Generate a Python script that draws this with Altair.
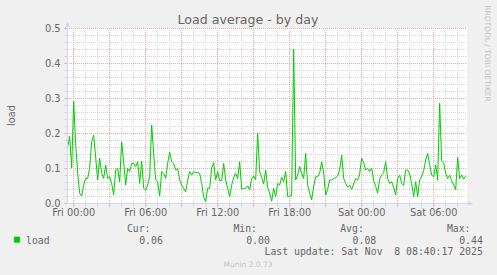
import altair as alt
import pandas as pd

# ---------------- data ----------------
title_text = "Load average - by day"
y_title = "load"
side_text = "RRDTOOL / TOBI OETIKER"
footer_text = "Munin 2.0.73"
series_name = "load"
stat_names = ["Cur:", "Min:", "Avg:", "Max:"]
stat_values = ["0.06", "0.00", "0.08", "0.44"]
last_update = "Last update: Sat Nov  8 08:40:17 2025"
first_sample_min = -30        # Thu 23:30, minutes relative to Fri 00:00
sample_step_min = 10
x_domain = [-33.33, 1966.67]  # minutes relative to Fri 00:00
x_label_pos = [0, 360, 720, 1080, 1440, 1800]
x_label_text = ["Fri 00:00", "Fri 06:00", "Fri 12:00", "Fri 18:00", "Sat 00:00", "Sat 06:00"]
y_label_pos = [0.0, 0.1, 0.2, 0.3, 0.4, 0.5]
y_label_text = ["0.0", "0.1", "0.2", "0.3", "0.4", "0.5"]
minor_x = list(range(0, 1921, 60))
major_x = list(range(0, 1921, 180))
minor_y = [0.02, 0.04, 0.06, 0.08, 0.12, 0.14, 0.16, 0.18, 0.22, 0.24, 0.26, 0.28,
           0.32, 0.34, 0.36, 0.38, 0.42, 0.44, 0.46, 0.48]
major_y = [0.0, 0.1, 0.2, 0.3, 0.4, 0.5]

load_values = [
    0.16, 0.19, 0.10, 0.29, 0.17, 0.085, 0.028, 0.02, 0.051, 0.07,
    0.07, 0.10, 0.175, 0.194, 0.13, 0.066, 0.128, 0.085, 0.07, 0.109,
    0.07, 0.075, 0.056, 0.023, 0.094, 0.10, 0.06, 0.175, 0.118, 0.051,
    0.099, 0.09, 0.113, 0.113, 0.104, 0.118, 0.056, 0.12, 0.042, 0.037,
    0.051, 0.075, 0.223, 0.142, 0.066, 0.061, 0.02, 0.09, 0.085, 0.07,
    0.113, 0.145, 0.118, 0.113, 0.094, 0.099, 0.066, 0.051, 0.042, 0.032,
    0.065, 0.09, 0.08, 0.09, 0.087, 0.087, 0.085, 0.056, 0.018, 0.004,
    0.042, 0.042, 0.10, 0.115, 0.066, 0.09, 0.064, 0.064, 0.113, 0.066,
    0.042, 0.018, 0.051, 0.073, 0.085, 0.07, 0.118, 0.04, 0.042, 0.042,
    0.049, 0.037,
    0.07, 0.077, 0.066, 0.20, 0.09, 0.073, 0.054, 0.094, 0.045, 0.028,
    0.005, 0.042, 0.018, 0.056, 0.051, 0.073, 0.061, 0.09, 0.018, 0.02,
    0.02, 0.44, 0.066, 0.08, 0.104, 0.085, 0.07, 0.142, 0.051, 0.028,
    0.009, 0.047, 0.075, 0.075, 0.085, 0.118, 0.085, 0.023, 0.039, 0.066,
    0.066, 0.07, 0.072, 0.077, 0.094, 0.137, 0.07, 0.056, 0.045, 0.051,
    0.039, 0.054, 0.07, 0.064, 0.083, 0.128, 0.115, 0.094, 0.099, 0.09,
    0.10, 0.064, 0.047, 0.028, 0.068, 0.08, 0.087, 0.118, 0.07, 0.056,
    0.061, 0.045, 0.023, 0.07, 0.08, 0.056, 0.05, 0.094, 0.094, 0.083,
    0.056, 0.018, 0.061, 0.018, 0.066, 0.077, 0.092, 0.123, 0.142, 0.109,
    0.08, 0.075, 0.109, 0.066, 0.285, 0.12, 0.115, 0.085, 0.07, 0.08,
    0.064, 0.051, 0.037, 0.13, 0.07, 0.08, 0.068, 0.077,
]

minutes = [first_sample_min + sample_step_min * i for i in range(len(load_values))]
df = pd.DataFrame({"t": minutes, "load": load_values})

# ---------------- styles ----------------
FONT = "DejaVu Sans"
MONO = "DejaVu Sans Mono"
TXT = "#666666"
AXIS = "#CFD6F8"
MAJ = "#E6A6A6"
MIN = "#D4D4D4"
GREEN = "#00CC00"
WM = "#C4C4C4"
FS = 9.8

xs = alt.Scale(domain=x_domain, nice=False, zero=False)
ys = alt.Scale(domain=[0, 0.5], nice=False, zero=True)


def vgrid(vals, color):
    d = pd.DataFrame({"v": vals})
    g = alt.Chart(d).mark_rule(color=color, strokeWidth=1, strokeDash=[1, 1]).encode(
        x=alt.X("v:Q", scale=xs, axis=None), y=alt.value(0), y2=alt.value(175))
    t = alt.Chart(d).mark_rule(color=color, strokeWidth=1).encode(
        x=alt.X("v:Q", scale=xs, axis=None), y=alt.value(176), y2=alt.value(178.5))
    return [g, t]


def hgrid(vals, color):
    d = pd.DataFrame({"v": vals})
    g = alt.Chart(d).mark_rule(color=color, strokeWidth=1, strokeDash=[1, 1], yOffset=0.5).encode(
        y=alt.Y("v:Q", scale=ys, axis=None), x=alt.value(0), x2=alt.value(400))
    t = alt.Chart(d).mark_rule(color=color, strokeWidth=1, yOffset=0.5).encode(
        y=alt.Y("v:Q", scale=ys, axis=None), x=alt.value(-2.5), x2=alt.value(0))
    return [g, t]


dummy = pd.DataFrame({"k": [0]})


def txt(s, x, y, **kw):
    return alt.Chart(dummy).mark_text(text=s, **kw).encode(x=alt.value(x), y=alt.value(y))


def rule(x, x2, y, y2, color, width=1):
    return alt.Chart(dummy).mark_rule(color=color, strokeWidth=width).encode(
        x=alt.value(x), x2=alt.value(x2), y=alt.value(y), y2=alt.value(y2))


layers = []
layers += vgrid(minor_x, MIN)
layers += hgrid(minor_y, MIN)
layers += vgrid(major_x, MAJ)
layers += hgrid(major_y, MAJ)

# series
layers.append(alt.Chart(df).mark_line(color=GREEN, strokeWidth=1).encode(
    x=alt.X("t:Q", scale=xs, axis=None), y=alt.Y("load:Q", scale=ys, axis=None)))

# tick labels through the scales
xl = pd.DataFrame({"v": x_label_pos, "lab": x_label_text})
layers.append(alt.Chart(xl).mark_text(font=FONT, fontSize=FS, color=TXT, align="center",
                                      baseline="alphabetic").encode(
    x=alt.X("v:Q", scale=xs, axis=None), y=alt.value(188), text="lab:N"))
yl = pd.DataFrame({"v": y_label_pos, "lab": y_label_text})
layers.append(alt.Chart(yl).mark_text(font=FONT, fontSize=FS, color=TXT, align="right",
                                      baseline="alphabetic", dy=3.7).encode(
    y=alt.Y("v:Q", scale=ys, axis=None), x=alt.value(-6.5), text="lab:N"))

# axis lines with arrows (plot coordinates: origin at 67,28)
layers.append(rule(0.5, 0.5, -3, 175.5, AXIS))
layers.append(rule(0, 402, 175.5, 175.5, AXIS))
layers.append(alt.Chart(dummy).mark_point(shape="M-1,1 L1,1 L0,-1 Z", filled=True, opacity=1,
                                          size=25, color=AXIS).encode(x=alt.value(0.5), y=alt.value(-3.8)))
layers.append(alt.Chart(dummy).mark_point(shape="M-1,-1 L1,0 L-1,1 Z", filled=True, opacity=1,
                                          size=25, color=AXIS).encode(x=alt.value(403.8), y=alt.value(175.5)))

# titles / watermarks
layers.append(txt(title_text, 181, -4, font=FONT, fontSize=12.6, color=TXT, align="center", baseline="alphabetic"))
layers.append(txt(y_title, -52, 87.5, font=FONT, fontSize=FS, color=TXT, align="center", baseline="alphabetic", angle=270))
layers.append(txt(side_text, 417.5, 25.5, font=FONT, fontSize=7.5, color=WM, align="center", baseline="alphabetic", angle=90))
layers.append(txt(footer_text, 181, 238.7, font=FONT, fontSize=7.5, color=WM, align="center", baseline="alphabetic"))

# legend
layers.append(alt.Chart(dummy).mark_rect(color=GREEN).encode(
    x=alt.value(-53), x2=alt.value(-47), y=alt.value(208.7), y2=alt.value(214.7)))
layers.append(txt(series_name, -41, 215.5, font=MONO, fontSize=FS, color=TXT, align="left", baseline="alphabetic"))
head_right = [83.5, 190.0, 296.8, 403.5]
val_right = [95.8, 202.8, 309.2, 415.8]
for name, hx in zip(stat_names, head_right):
    layers.append(txt(name, hx, 204, font=MONO, fontSize=FS, color=TXT, align="right", baseline="alphabetic"))
for val, vx in zip(stat_values, val_right):
    layers.append(txt(val, vx, 215.5, font=MONO, fontSize=FS, color=TXT, align="right", baseline="alphabetic"))
layers.append(txt(last_update.replace("  ", " \u00a0"), 415.8, 227.3, font=MONO, fontSize=FS, color=TXT,
                  align="right", baseline="alphabetic"))

chart = alt.layer(*layers).properties(
    width=400, height=175,
    padding={"left": 67, "top": 28, "right": 30, "bottom": 72},
    autosize=alt.AutoSizeParams(type="none"),
    background="#F0F0F0",
).configure_view(fill="white", stroke=None)

chart.save("out.html", embed_options={"renderer": "svg", "actions": False})
